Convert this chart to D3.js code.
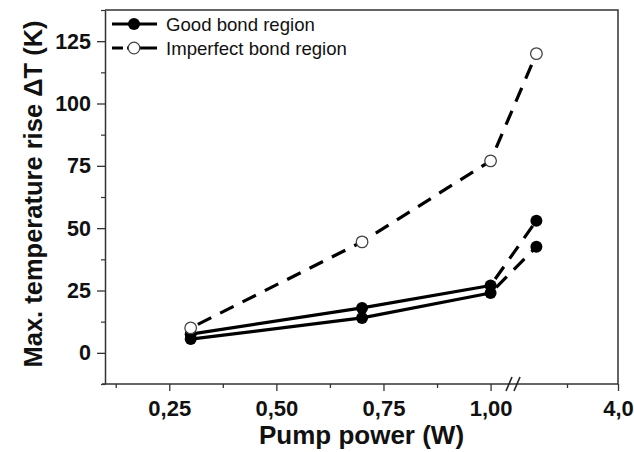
<!DOCTYPE html>
<html>
<head>
<meta charset="utf-8">
<script src="https://cdn.jsdelivr.net/npm/d3@7/dist/d3.min.js"></script>
<style>
  html, body { margin: 0; padding: 0; background: #fff; }
  svg { display: block; }
</style>
</head>
<body>
<svg id="chart" width="634" height="452"></svg>
<script>
// ---------- data ----------
const power      = [0.3, 0.7, 1.0, 3.6];
const goodUpper  = [7.5, 18, 27, 53];
const goodLower  = [5.5, 14, 24, 42.5];
const imperfect  = [10, 44.5, 77, 120];
const yTicks      = [0, 25, 50, 75, 100, 125];
const yMinorTicks = [-12.5, 12.5, 37.5, 62.5, 87.5, 112.5, 137.5];
const xTicksLeft  = [0.25, 0.5, 0.75, 1.0];
const xMinorLeft  = [0.125, 0.375, 0.625, 0.875];
const xTicksRight = [4.0];
const xMinorRight = [3.75];
const legendLabels = ["Good bond region", "Imperfect bond region"];

// ---------- layout ----------
const svg = d3.select("#chart");
const pL = 105, pR = 618, pT = 10, pB = 384;
const breakL = 512, breakR = 516;

const y = d3.scaleLinear().domain([-12.5, 137.5]).range([pB, pT]);
const xL = d3.scaleLinear().domain([0.1, 1.05]).range([pL, breakL]);
const xR = d3.scaleLinear().domain([3.5, 4.0]).range([breakR, pR]);
const x = v => (v <= 1.05 ? xL(v) : xR(v));

const ink = "#111";
const fontFam = "Liberation Sans, Arial, Helvetica, sans-serif";

// frame (top & right)
svg.append("path")
  .attr("d", `M${pL},${pT}H${pR}V${pB}`)
  .attr("fill", "none").attr("stroke", "#333").attr("stroke-width", 1.5);

// y axis
const yAx = svg.append("g").attr("transform", `translate(${pL},0)`)
  .call(d3.axisLeft(y).tickValues(yTicks).tickSize(8).tickSizeOuter(0).tickPadding(6).tickFormat(d3.format("d")));
yAx.select(".domain").attr("stroke", "#333").attr("stroke-width", 1.5);
yAx.selectAll(".tick line").attr("stroke", "#333").attr("stroke-width", 1.3);
yAx.selectAll(".tick text").attr("font-family", fontFam).attr("font-weight", "bold")
  .attr("font-size", 21.5).attr("fill", ink);
const yMin = svg.append("g").attr("transform", `translate(${pL},0)`)
  .call(d3.axisLeft(y).tickValues(yMinorTicks).tickSize(4).tickSizeOuter(0).tickFormat(""));
yMin.select(".domain").remove();
yMin.selectAll(".tick line").attr("stroke", "#333").attr("stroke-width", 1.2);

// x axis
function styleX(g, withLabels) {
  g.select(".domain").remove();
  g.selectAll(".tick line").attr("stroke", "#333").attr("stroke-width", 1.3);
  if (withLabels) g.selectAll(".tick text").attr("font-family", fontFam).attr("font-weight", "bold")
    .attr("font-size", 22).attr("fill", ink);
}
const fmt2 = d => d3.format(".2f")(d).replace(".", ",");
const fmt1 = d => d3.format(".1f")(d).replace(".", ",");
styleX(svg.append("g").attr("transform", `translate(0,${pB})`)
  .call(d3.axisBottom(xL).tickValues(xTicksLeft).tickSize(7).tickPadding(9).tickFormat(fmt2)), true);
styleX(svg.append("g").attr("transform", `translate(0,${pB})`)
  .call(d3.axisBottom(xL).tickValues(xMinorLeft).tickSize(4).tickFormat("")), false);
styleX(svg.append("g").attr("transform", `translate(0,${pB})`)
  .call(d3.axisBottom(xR).tickValues(xTicksRight).tickSize(7).tickPadding(9).tickFormat(fmt1)), true);
styleX(svg.append("g").attr("transform", `translate(0,${pB})`)
  .call(d3.axisBottom(xR).tickValues(xMinorRight).tickSize(4).tickFormat("")), false);

// x axis baseline with break
svg.append("path").attr("d", `M${pL - 3},${pB}H${pR}`)
  .attr("stroke", "#333").attr("stroke-width", 1.5).attr("fill", "none");
[breakL - 3, breakL + 5].forEach(cx => {
  svg.append("line").attr("x1", cx - 3).attr("y1", pB + 7).attr("x2", cx + 3).attr("y2", pB - 7)
    .attr("stroke", "#222").attr("stroke-width", 1.6);
});

// axis titles
svg.append("text").attr("x", (pL + pR) / 2).attr("y", 444)
  .attr("text-anchor", "middle").attr("font-family", fontFam).attr("font-weight", "bold")
  .attr("font-size", 26).attr("fill", ink).text("Pump power (W)");
svg.append("text").attr("transform", `translate(42,${(pT + pB) / 2 - 3}) rotate(-90)`)
  .attr("text-anchor", "middle").attr("font-family", fontFam).attr("font-weight", "bold")
  .attr("font-size", 25.5).attr("fill", ink).text("Max. temperature rise \u0394T (K)");

// ---------- series ----------
const pts = vals => power.map((p, i) => [p, vals[i]]);
const line = d3.line().x(d => x(d[0])).y(d => y(d[1]));
const dash = "15,10";

[goodUpper, goodLower].forEach(vals => {
  const p = pts(vals);
  svg.append("path").attr("d", line(p.slice(0, 3))).attr("fill", "none")
    .attr("stroke", "#000").attr("stroke-width", 3.2);
  svg.append("path").attr("d", line(p.slice(2))).attr("fill", "none")
    .attr("stroke", "#000").attr("stroke-width", 3.2).attr("stroke-dasharray", dash).attr("stroke-dashoffset", -8);
});
svg.append("path").attr("d", line(pts(imperfect))).attr("fill", "none")
  .attr("stroke", "#000").attr("stroke-width", 3.2).attr("stroke-dasharray", dash).attr("stroke-dashoffset", -8);

[goodUpper, goodLower].forEach(vals => {
  svg.append("g").selectAll("circle").data(pts(vals)).join("circle")
    .attr("cx", d => x(d[0])).attr("cy", d => y(d[1])).attr("r", 6).attr("fill", "#000");
});
svg.append("g").selectAll("circle").data(pts(imperfect)).join("circle")
  .attr("cx", d => x(d[0])).attr("cy", d => y(d[1])).attr("r", 5.8)
  .attr("fill", "#fff").attr("stroke", "#444").attr("stroke-width", 1.3);

// ---------- legend ----------
const lg = svg.append("g");
legendLabels.forEach((lab, i) => {
  const cy = 24 + i * 24;
  lg.append("line").attr("x1", 112).attr("x2", 157).attr("y1", cy).attr("y2", cy)
    .attr("stroke", "#000").attr("stroke-width", 3.2);
  if (i === 0) {
    lg.append("circle").attr("cx", 134).attr("cy", cy).attr("r", 6).attr("fill", "#000");
  } else {
    lg.append("rect").attr("x", 123).attr("y", cy - 3).attr("width", 4).attr("height", 6).attr("fill", "#fff");
    lg.append("circle").attr("cx", 134).attr("cy", cy).attr("r", 5.8)
      .attr("fill", "#fff").attr("stroke", "#444").attr("stroke-width", 1.3);
  }
  lg.append("text").attr("x", 166).attr("y", cy + 6.5).attr("font-family", fontFam)
    .attr("font-size", 18.6).attr("fill", ink).text(lab);
});
</script>
</body>
</html>
